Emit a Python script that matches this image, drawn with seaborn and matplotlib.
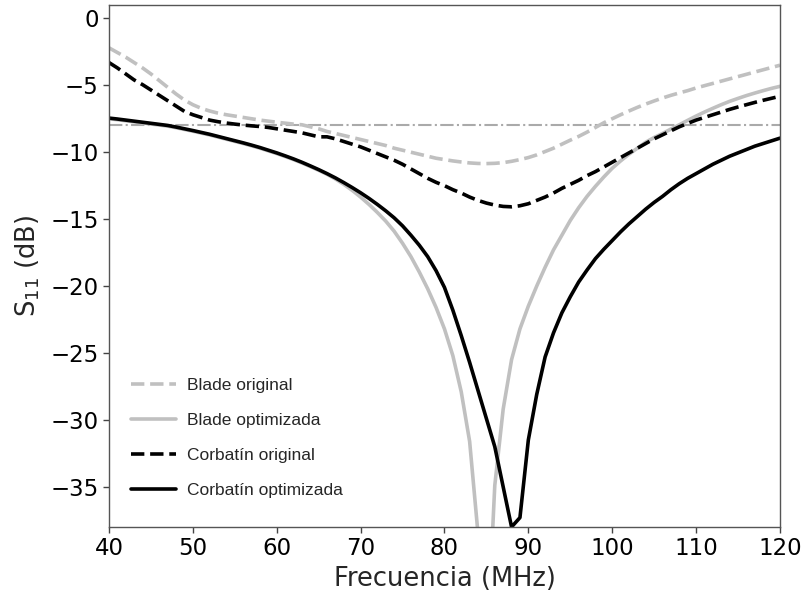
import numpy as np
import pandas as pd
import matplotlib
matplotlib.use("Agg")
import matplotlib.pyplot as plt
import seaborn as sns

# Frequency axis (MHz)
freq = list(range(40, 121))

blade_original = [
    -2.2, -2.55, -2.9, -3.3, -3.7, -4.15, -4.65, -5.15, -5.65, -6.1,
    -6.45, -6.72, -6.92, -7.08, -7.2, -7.3, -7.4, -7.5, -7.6, -7.68,
    -7.76, -7.83, -7.9, -7.95, -8.1, -8.25, -8.45, -8.6, -8.75, -8.9,
    -9.05, -9.2, -9.35, -9.5, -9.7, -9.85, -10.0, -10.15, -10.3, -10.45,
    -10.55, -10.65, -10.73, -10.8, -10.84, -10.85, -10.83, -10.78, -10.68, -10.55,
    -10.4, -10.2, -9.95, -9.7, -9.4, -9.1, -8.82, -8.5, -8.15, -7.8,
    -7.5, -7.2, -6.92, -6.65, -6.4, -6.17, -5.95, -5.75, -5.57, -5.4,
    -5.2, -5.03, -4.86, -4.69, -4.52, -4.35, -4.18, -4.01, -3.84, -3.67,
    -3.5,
]

blade_optimizada = [
    -7.5, -7.57, -7.65, -7.73, -7.81, -7.89, -7.97, -8.05, -8.17, -8.3,
    -8.43, -8.57, -8.71, -8.87, -9.03, -9.19, -9.35, -9.52, -9.7, -9.9,
    -10.1, -10.32, -10.55, -10.8, -11.07, -11.35, -11.65, -12.0, -12.4, -12.85,
    -13.35, -13.9, -14.5, -15.15, -15.9, -16.8, -17.8, -18.95, -20.2, -21.6,
    -23.2, -25.2, -27.9, -31.6, -38.5, -48.0, -34.9, -29.2, -25.5, -23.2,
    -21.5, -20.0, -18.6, -17.3, -16.2, -15.1, -14.15, -13.3, -12.55, -11.85,
    -11.2, -10.65, -10.15, -9.7, -9.25, -8.9, -8.6, -8.27, -7.95, -7.62,
    -7.3, -7.0, -6.72, -6.45, -6.2, -5.98, -5.77, -5.58, -5.4, -5.23,
    -5.08,
]

corbatin_original = [
    -3.3, -3.7, -4.15, -4.6, -4.95, -5.35, -5.75, -6.15, -6.55, -6.95,
    -7.2, -7.4, -7.6, -7.72, -7.82, -7.9, -7.97, -8.03, -8.08, -8.15,
    -8.25, -8.35, -8.45, -8.55, -8.7, -8.85, -8.85, -9.0, -9.2, -9.4,
    -9.6, -9.85, -10.1, -10.35, -10.6, -10.9, -11.25, -11.6, -11.95, -12.25,
    -12.5, -12.8, -13.05, -13.35, -13.6, -13.8, -13.95, -14.05, -14.08, -14.0,
    -13.85, -13.6, -13.35, -13.05, -12.7, -12.4, -12.1, -11.75, -11.45, -11.1,
    -10.75, -10.4, -10.05, -9.7, -9.35, -9.0, -8.7, -8.4, -8.1, -7.85,
    -7.6, -7.4, -7.2, -7.0, -6.8, -6.62, -6.45, -6.28, -6.12, -5.97,
    -5.82,
]

corbatin_optimizada = [
    -7.45, -7.52, -7.6, -7.68, -7.76, -7.84, -7.92, -8.0, -8.12, -8.25,
    -8.38, -8.52, -8.66, -8.82, -8.98, -9.14, -9.3, -9.47, -9.65, -9.85,
    -10.05, -10.27, -10.5, -10.75, -11.02, -11.3, -11.6, -11.92, -12.27, -12.64,
    -13.03, -13.45, -13.9, -14.38, -14.9, -15.5, -16.2, -16.95, -17.8, -18.85,
    -20.1, -21.8, -23.7, -25.7, -27.8, -29.9, -32.0, -35.0, -38.0, -37.3,
    -31.5, -28.1, -25.3, -23.5, -22.0, -20.8, -19.7, -18.8, -17.95, -17.25,
    -16.6, -15.95, -15.35, -14.8, -14.25, -13.75, -13.3, -12.8, -12.35, -11.95,
    -11.6, -11.25, -10.9, -10.6, -10.3, -10.05, -9.8, -9.55, -9.35, -9.15,
    -8.95,
]

threshold = -8

labels = ["Blade original", "Blade optimizada", "Corbatín original", "Corbatín optimizada"]
colors = ["#c0c0c0", "#c0c0c0", "#000000", "#000000"]
styles = ["--", "-", "--", "-"]
series = [blade_original, blade_optimizada, corbatin_original, corbatin_optimizada]

sns.set_style("ticks")
plt.rcParams["font.family"] = ["DejaVu Sans"]

fig = plt.figure(figsize=(8.07, 6.0), dpi=100)
ax = fig.add_axes([0.135, 0.1217, 0.8315, 0.87])

ax.axhline(threshold, color="#aaaaaa", lw=1.5, ls="-.", zorder=1)

for lab, col, st, vals in zip(labels, colors, styles, series):
    df = pd.DataFrame({"f": freq, "s": vals})
    sns.lineplot(data=df, x="f", y="s", ax=ax, color=col, linestyle=st,
                 lw=2.6, label=lab, zorder=2)

ax.set_xlim(40, 120)
ax.set_ylim(-38, 1)
ax.set_xticks([40, 50, 60, 70, 80, 90, 100, 110, 120])
ax.set_yticks([0, -5, -10, -15, -20, -25, -30, -35])
ax.set_yticklabels(["0", "\u22125", "\u221210", "\u221215", "\u221220", "\u221225", "\u221230", "\u221235"])
ax.tick_params(axis="both", labelsize=16.5, length=4, width=1, color="#444444", labelcolor="#000000")
for sp in ax.spines.values():
    sp.set_color("#555555")
    sp.set_linewidth(1.0)

ax.set_xlabel("Frecuencia (MHz)", fontsize=18.5, labelpad=4)
ax.set_ylabel(r"S$_{11}$ (dB)", fontsize=18.5, labelpad=6)

leg = ax.legend(loc="lower left", bbox_to_anchor=(0.0065, 0.023), frameon=False,
                prop={"family": "Liberation Sans", "size": 12.5},
                handlelength=2.6, labelspacing=1.14, handletextpad=0.65,
                borderaxespad=0.6)

fig.savefig("out.png", dpi=100)
